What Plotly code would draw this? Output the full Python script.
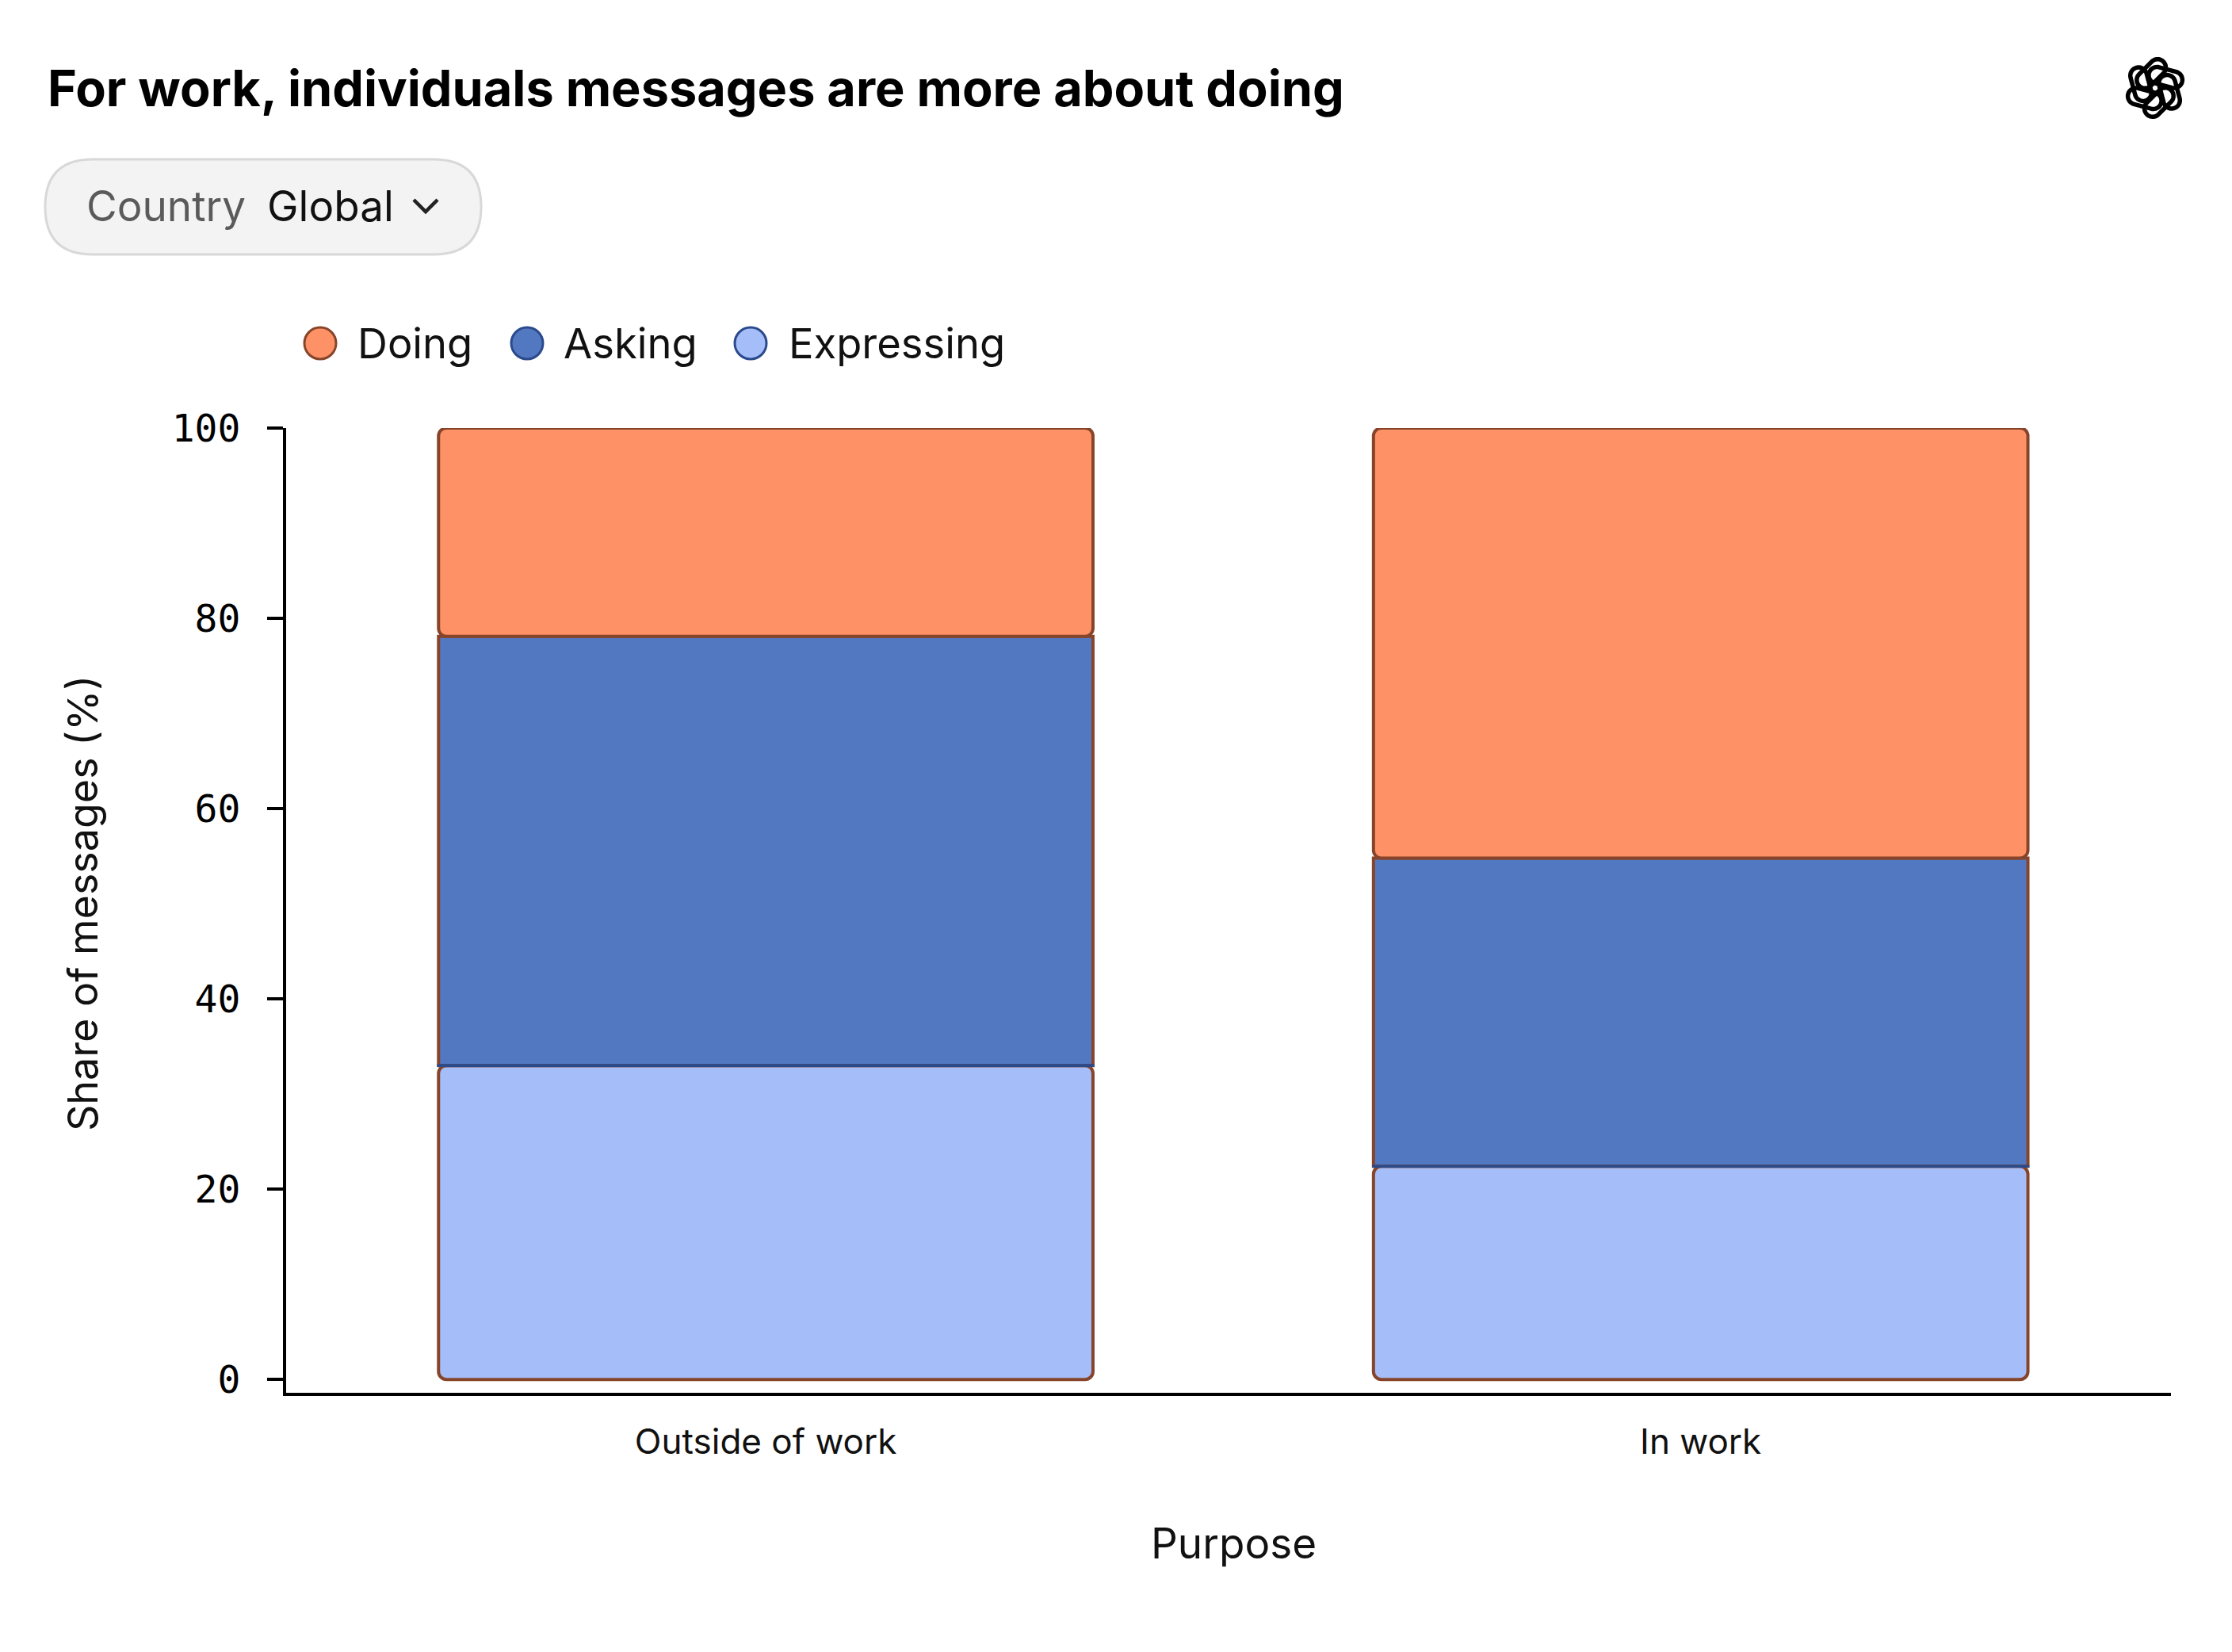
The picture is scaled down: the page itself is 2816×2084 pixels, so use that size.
import numpy as np
import plotly.graph_objects as go

# values (share of messages, %)
categories = ["Outside of work", "In work"]
doing = [21.9, 45.2]
asking = [45.1, 32.4]
expressing = [33.0, 22.4]

series_names = ["Doing", "Asking", "Expressing"]
fill_colors = ["#FF9166", "#5378C2", "#A5BEFA"]
line_colors = ["#86452A", "#2B4A8C", "#2B4A8C"]
outline_color = "#86452A"

y_ticks = [0, 20, 40, 60, 80, 100]

# page geometry (pixels) - body keeps its 8px margin
W, H = 2800, 2068
L, R, T, B = 353, 2731, 532, 1749


def px(x):
    return (x - L) / (R - L)


def py(y):
    return (B - y) / (B - T)


def path_from_points(pts, close=True):
    s = "M " + " L ".join(f"{px(x):.5f},{py(y):.5f}" for x, y in pts)
    return s + (" Z" if close else "")


def stadium(cx, cy, half_len, rad, ang, n=24):
    ux, uy = np.cos(ang), np.sin(ang)
    vx, vy = -uy, ux
    pts = []
    for t in np.linspace(-np.pi / 2, np.pi / 2, n):
        pts.append((cx + ux * half_len + rad * (np.cos(t) * ux + np.sin(t) * vx),
                    cy + uy * half_len + rad * (np.cos(t) * uy + np.sin(t) * vy)))
    for t in np.linspace(np.pi / 2, 3 * np.pi / 2, n):
        pts.append((cx - ux * half_len + rad * (np.cos(t) * ux + np.sin(t) * vx),
                    cy - uy * half_len + rad * (np.cos(t) * uy + np.sin(t) * vy)))
    return pts


exp_arr = np.array(expressing)
ask_arr = np.array(asking)
doi_arr = np.array(doing)
bar_w = 0.70

fig = go.Figure()
# Expressing is drawn downward from its top so the rounded corners land at the bottom
fig.add_trace(go.Bar(
    x=categories, y=-exp_arr, base=exp_arr, name="Expressing", width=bar_w,
    customdata=exp_arr, hovertemplate="%{x}<br>Expressing: %{customdata}%<extra></extra>",
    marker=dict(color=fill_colors[2], line=dict(color=outline_color, width=4), cornerradius=10),
))
fig.add_trace(go.Bar(
    x=categories, y=ask_arr, base=exp_arr, name="Asking", width=bar_w,
    marker=dict(color=fill_colors[1], line=dict(color=outline_color, width=4)),
))
fig.add_trace(go.Bar(
    x=categories, y=doi_arr, base=exp_arr + ask_arr, name="Doing", width=bar_w,
    marker=dict(color=fill_colors[0], line=dict(color=outline_color, width=4), cornerradius=10),
))
# dark blue divider between Asking and Expressing
fig.add_trace(go.Bar(
    x=categories, y=[0.01] * len(categories), base=exp_arr, width=bar_w, hoverinfo="skip",
    marker=dict(color=line_colors[1], line=dict(color=line_colors[1], width=3.5)),
))

shapes = []
annotations = []

# title
annotations.append(dict(text="<b>For work, individuals messages are more about doing</b>",
                        x=px(50), y=py(103), xref="paper", yref="paper",
                        xanchor="left", yanchor="middle", showarrow=False,
                        font=dict(family="Inter", size=63, color="#000000")))

# country selector pill
x0, x1, y0, y1 = 49, 599, 193, 313
r = (y1 - y0) / 2
pill = (f"M {px(x0 + r)},{py(y0)} L {px(x1 - r)},{py(y0)} "
        f"Q {px(x1)},{py(y0)} {px(x1)},{py(y0 + r)} Q {px(x1)},{py(y1)} {px(x1 - r)},{py(y1)} "
        f"L {px(x0 + r)},{py(y1)} Q {px(x0)},{py(y1)} {px(x0)},{py(y0 + r)} "
        f"Q {px(x0)},{py(y0)} {px(x0 + r)},{py(y0)} Z")
shapes.append(dict(type="path", path=pill, xref="paper", yref="paper",
                   fillcolor="#F3F3F3", line=dict(color="#D8D8D8", width=3), layer="above"))
shapes.append(dict(type="path", xref="paper", yref="paper",
                   path=path_from_points([(514, 244), (529, 259), (544, 244)], close=False),
                   line=dict(color="#222222", width=4.5), layer="above"))
annotations.append(dict(text="Country", x=px(99), y=py(252), xref="paper", yref="paper",
                        xanchor="left", yanchor="middle", showarrow=False,
                        font=dict(family="Inter", size=53, color="#5A5A5A")))
annotations.append(dict(text="Global", x=px(327), y=py(252), xref="paper", yref="paper",
                        xanchor="left", yanchor="middle", showarrow=False,
                        font=dict(family="Inter", size=53, color="#111111")))

# legend (drawn by hand so the circles can be large)
leg_cx = [396, 657, 939]
leg_tx = [441, 701, 985]
leg_y = 425
for i in range(3):
    shapes.append(dict(type="circle", xref="paper", yref="paper",
                       x0=px(leg_cx[i] - 20), x1=px(leg_cx[i] + 20),
                       y0=py(leg_y + 20), y1=py(leg_y - 20),
                       fillcolor=fill_colors[i], line=dict(color=line_colors[i], width=3)))
    annotations.append(dict(text=series_names[i], x=px(leg_tx[i]), y=py(leg_y), xref="paper", yref="paper",
                            xanchor="left", yanchor="middle", showarrow=False,
                            font=dict(family="Inter", size=52.5, color="#111111")))

# axis titles
annotations.append(dict(text="Share of messages (%)", x=px(96), y=py(1132), xref="paper", yref="paper",
                        xanchor="center", yanchor="middle", textangle=-90, showarrow=False,
                        font=dict(family="Inter", size=52, color="#111111")))
annotations.append(dict(text="Purpose", x=px(1549), y=py(1939), xref="paper", yref="paper",
                        xanchor="center", yanchor="middle", showarrow=False,
                        font=dict(family="Inter", size=53, color="#111111")))

# logo, rough knot of six loops
lc_x, lc_y, lr = 2711, 103, 40
for k in range(6):
    a = np.deg2rad(60 * k)
    cx = lc_x + 0.45 * lr * np.cos(a) + 0.12 * lr * np.cos(a + np.pi / 2)
    cy = lc_y + 0.45 * lr * np.sin(a) + 0.12 * lr * np.sin(a + np.pi / 2)
    shapes.append(dict(type="path", xref="paper", yref="paper",
                       path=path_from_points(stadium(cx, cy, 0.28 * lr, 0.26 * lr, a + np.pi / 2.4)),
                       line=dict(color="#000000", width=5.5), layer="above"))

fig.update_layout(
    width=W, height=H,
    margin=dict(l=L, r=W - R, t=T, b=H - B, pad=0),
    barmode="overlay",
    plot_bgcolor="#FFFFFF", paper_bgcolor="#FFFFFF",
    font=dict(family="Inter", color="#111111"),
    showlegend=False,
    shapes=shapes, annotations=annotations,
)
fig.update_xaxes(range=[-0.513, 1.503], showgrid=False, zeroline=False,
                 showline=True, linecolor="#000000", linewidth=4, ticks="",
                 tickfont=dict(family="Inter", size=44, color="#111111"), ticklabelstandoff=20)
fig.update_yaxes(range=[-1.4, 100], tickvals=y_ticks, showgrid=False, zeroline=False,
                 showline=True, linecolor="#000000", linewidth=4,
                 ticks="outside", ticklen=20, tickwidth=4, tickcolor="#000000",
                 tickfont=dict(family="DejaVu Sans Mono", size=48, color="#000000"),
                 ticklabelstandoff=24)

fig.write_html("out.html")
